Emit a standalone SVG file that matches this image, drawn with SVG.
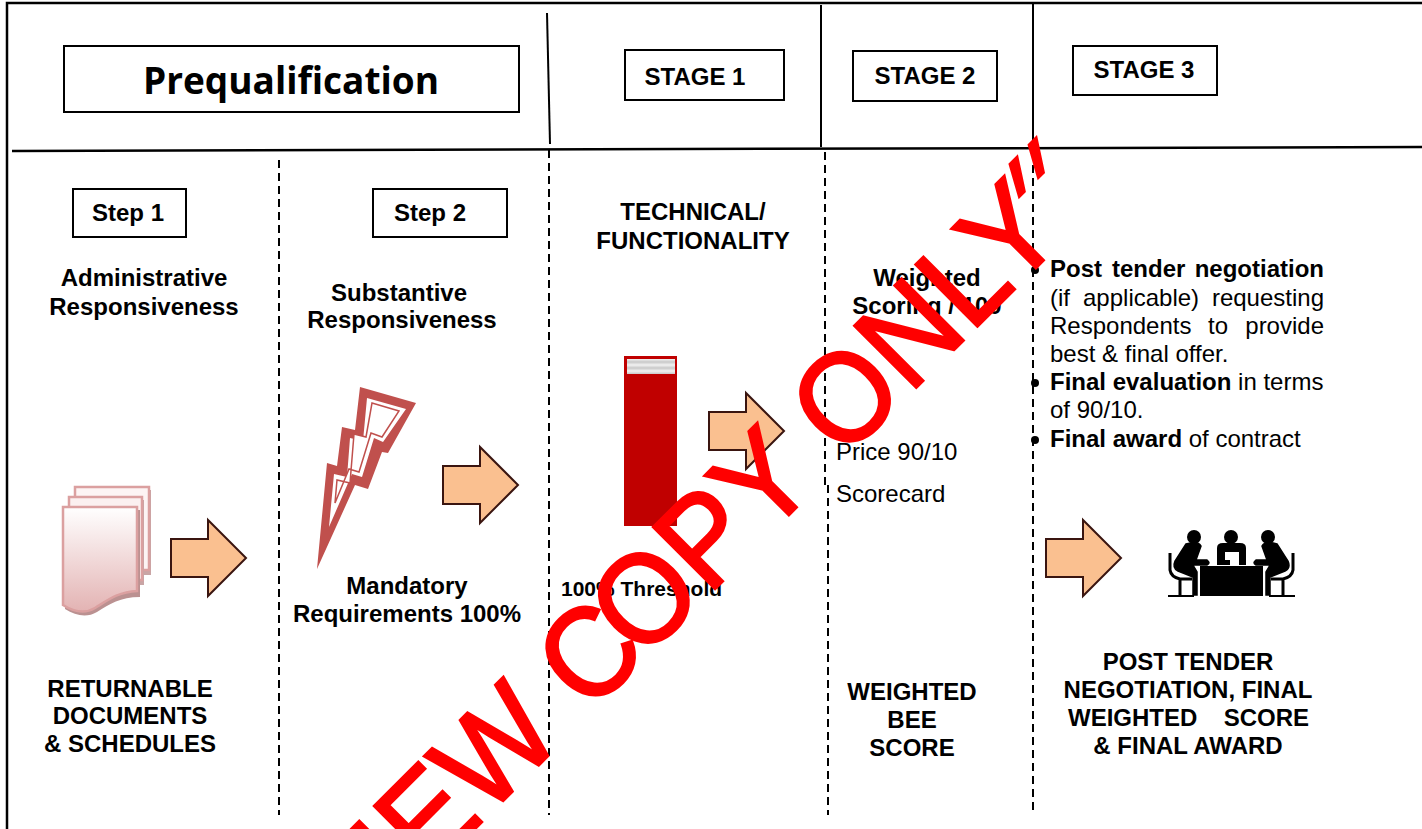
<svg xmlns="http://www.w3.org/2000/svg" width="1422" height="829" viewBox="0 0 1422 829">
<style>
text{font-family:"Liberation Sans",Arial,sans-serif;font-size:24px;fill:#000}
.b{font-weight:bold}
.m{text-anchor:middle}
.box{fill:#fff;stroke:#000;stroke-width:2}
.solid{stroke:#000;stroke-width:2;fill:none}
.thick{stroke:#000;stroke-width:2.5;fill:none}
.dash{stroke:#000;stroke-width:2;fill:none;stroke-dasharray:8 5}
.wm{font-size:120px;fill:#f00;stroke:#f00;stroke-width:2.5}
.sheet{stroke:#dba0a0;stroke-width:2.5}
</style>
<defs>
<linearGradient id="doc" x1="0" y1="0" x2="0" y2="1"><stop offset="0" stop-color="#fff"/><stop offset="1" stop-color="#e3b3b3"/></linearGradient>
<linearGradient id="stripe" x1="0" y1="0" x2="0" y2="1"><stop offset="0" stop-color="#f2f2f2"/><stop offset=".2" stop-color="#c8c8c8"/><stop offset=".4" stop-color="#f2f2f2"/><stop offset=".6" stop-color="#c8c8c8"/><stop offset=".8" stop-color="#f2f2f2"/><stop offset="1" stop-color="#c8c8c8"/></linearGradient>
<g id="arw"><path d="M1 19H38V0L76 38 38 76V57H1Z" fill="#fac090" stroke="#3a1510" stroke-width="2"/></g>
<path id="person" stroke="#000" stroke-width="1.5" d="M1186 544Q1198 540 1201 546L1196 560H1207Q1211 563 1207 565H1193L1197 572V595H1193V577L1178 571Q1172 568 1175 561Z"/>
<path id="chair" d="M1170 553V570Q1171 577 1180 579H1192M1180 579V595" fill="none" stroke="#000" stroke-width="3"/>
</defs>

<g id="connectors">
<path class="thick" d="M7 829V3H1422"/>
<path class="thick" d="M12 151 L1422 147"/>
<path class="solid" d="M547 13 L550 144"/>
<path class="solid" d="M821 5V147"/>
<path class="solid" d="M1033 3V147"/>
<path class="dash" d="M279 160V815"/>
<path class="dash" d="M549 150V815"/>
<path class="dash" d="M825 152V485"/>
<path class="dash" d="M828 485V815"/>
<path class="dash" d="M1033 152V815"/>
</g>

<g id="prequal"><rect class="box" x="64" y="46" width="455" height="66"/><text class="b m" x="291" y="94" style="font-family:'Open Sans',sans-serif;font-size:37px">Prequalification</text></g>
<g id="stage1"><rect class="box" x="625" y="50" width="159" height="50"/><text class="b m" x="695" y="85">STAGE 1</text></g>
<g id="stage2"><rect class="box" x="853" y="51" width="144" height="50"/><text class="b m" x="925" y="84">STAGE 2</text></g>
<g id="stage3"><rect class="box" x="1073" y="46" width="144" height="49"/><text class="b m" x="1144" y="78">STAGE 3</text></g>
<g id="step1"><rect class="box" x="73" y="189" width="113" height="48"/><text class="b m" x="128" y="221">Step 1</text></g>
<g id="step2"><rect class="box" x="373" y="189" width="134" height="48"/><text class="b m" x="430" y="221">Step 2</text></g>

<g id="col1"><text class="b m" x="144" y="286">Administrative</text><text class="b m" x="144" y="315">Responsiveness</text>
<text class="b m" x="130" y="697">RETURNABLE</text><text class="b m" x="130" y="724">DOCUMENTS</text><text class="b m" x="130" y="752">&amp; SCHEDULES</text></g>
<g id="col2"><text class="b m" x="399" y="301">Substantive</text><text class="b m" x="402" y="328">Responsiveness</text>
<text class="b m" x="407" y="594">Mandatory</text><text class="b m" x="407" y="622">Requirements 100%</text></g>
<g id="col3"><text class="b m" x="693" y="220">TECHNICAL/</text><text class="b m" x="693" y="249">FUNCTIONALITY</text>
<text class="b" x="561" y="596" style="font-size:21px">100% Threshold</text></g>
<g id="col4"><text class="b m" x="927" y="286">Weighted</text><text class="b m" x="927" y="314">Scoring / 100</text>
<text x="836" y="460">Price 90/10</text><text x="836" y="502">Scorecard</text>
<text class="b m" x="912" y="700">WEIGHTED</text><text class="b m" x="912" y="728">BEE</text><text class="b m" x="912" y="756">SCORE</text></g>
<g id="col5">
<circle cx="1035" cy="270" r="4"/><circle cx="1035" cy="383" r="4"/><circle cx="1035" cy="440" r="4"/>
<text class="b" x="1050" y="277">Post</text><text class="b" x="1112" y="277">tender</text><text class="b" x="1324" y="277" text-anchor="end">negotiation</text>
<text x="1050" y="306">(if</text><text x="1083" y="306">applicable)</text><text x="1324" y="306" text-anchor="end">requesting</text>
<text x="1050" y="334">Respondents</text><text x="1208" y="334">to</text><text x="1324" y="334" text-anchor="end">provide</text>
<text x="1050" y="362">best &amp; final offer.</text>
<text x="1050" y="390"><tspan class="b">Final evaluation</tspan> in terms</text>
<text x="1050" y="418">of 90/10.</text>
<text x="1050" y="447"><tspan class="b">Final award</tspan> of contract</text>
<text class="b m" x="1188" y="670">POST TENDER</text><text class="b m" x="1188" y="698">NEGOTIATION, FINAL</text><text class="b" x="1068" y="726">WEIGHTED</text><text class="b" x="1309" y="726" text-anchor="end">SCORE</text><text class="b m" x="1188" y="754">&amp; FINAL AWARD</text>
</g>

<g id="documents">
<path d="M78 490H151V575H78Z" fill="#c9a5a5"/>
<path class="sheet" d="M75 487H149V570H75Z" fill="#fdf4f4"/>
<path d="M72 500H144V585H72Z" fill="#c9a5a5"/>
<path class="sheet" d="M69 497H142V580H69Z" fill="#fbf0f0"/>
<path d="M64 510H140V597C120 597 110 604 97 612C87 618 76 616 65 609Z" fill="#bb9191"/>
<path class="sheet" d="M63 507H137V591C118 592 108 600 95 608C85 614 74 612 63 605Z" fill="url(#doc)"/>
</g>
<use id="arrow1" href="#arw" x="170" y="520"/>
<g id="bolt">
<path fill="#c0504d" d="M360 387 416 403 388 453 382 452 368 489 355 485 317 569 327 463 337 466 342 427 355 430Z"/>
<path fill="#fff" d="M367 398 406 409 383 442 374 438 362 477 352 474 329 527 334 474 347 477 350 438 363 441Z"/>
<path fill="#fff" stroke="#c0504d" stroke-width="1.5" d="M372 403 399 411 382 437 371 433 359 472 349 469 335 503 337 480 350 483 354 434 366 437Z"/>
</g>
<use id="arrow2" href="#arw" x="442" y="447"/>
<g id="bar"><rect x="624" y="356" width="53" height="170" fill="#c00000"/><rect x="627" y="359" width="48" height="15" fill="url(#stripe)"/></g>
<use id="arrow3" href="#arw" x="708" y="393"/>
<use id="arrow4" href="#arw" x="1045" y="520"/>
<g id="meeting" fill="#000">
<circle cx="1194" cy="537" r="7"/><circle cx="1231" cy="537" r="7"/><circle cx="1268" cy="537" r="7"/>
<use href="#person"/><use href="#person" transform="translate(2463 0) scale(-1 1)"/>
<use href="#chair"/><use href="#chair" transform="translate(2463 0) scale(-1 1)"/>
<path d="M1217 548Q1217 543 1223 543H1240Q1246 543 1246 548V565H1239V552H1225V560H1230V565H1217Z"/>
<rect x="1200" y="566" width="63" height="30"/>
<path d="M1168 596H1194M1269 596H1295" fill="none" stroke="#000" stroke-width="2"/>
</g>
<g id="watermark"><text class="wm" transform="translate(1068 236) rotate(-45) scale(1 1.06)" text-anchor="end">“PREVIEW C<tspan dx="-12">O</tspan>PY ONLY</text>
<text class="wm" transform="translate(1033 285) rotate(-45) skewX(-31)" style="font-size:150px;stroke:none">"</text></g>
</svg>
